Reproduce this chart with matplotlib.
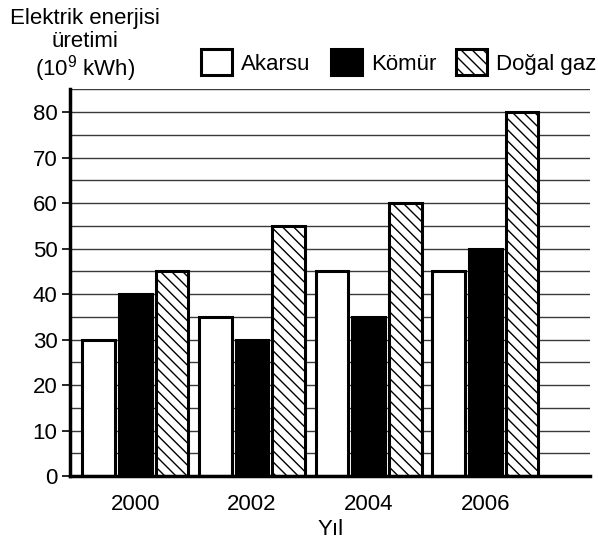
import matplotlib.pyplot as plt
import numpy as np
from matplotlib.patches import Patch

plt.rcParams['font.family'] = ['Liberation Sans', 'DejaVu Sans']
plt.rcParams['mathtext.fontset'] = 'custom'
plt.rcParams['mathtext.rm'] = 'Liberation Sans'
plt.rcParams['hatch.linewidth'] = 1.0

# Data
years = ['2000', '2002', '2004', '2006']
akarsu = [30, 35, 45, 45]
komur = [40, 30, 35, 50]
dogalgaz = [45, 55, 60, 80]

x = np.arange(len(years))
w = 0.28
step = 0.315
fs = 16

fig = plt.figure(figsize=(5.98, 5.41), dpi=100)
ax = fig.add_axes([0.117, 0.120, 0.870, 0.715])

# grid lines every 5
for v in range(5, 90, 5):
    ax.axhline(v, color='#3a3a3a', lw=1.0, zorder=0)

ax.bar(x - step, akarsu, w, color='white', edgecolor='black', lw=2.2, zorder=2)
ax.bar(x, komur, w, color='black', edgecolor='black', lw=2.2, zorder=2)
ax.bar(x + step, dogalgaz, w, color='white', edgecolor='black', lw=2.2,
       hatch='\\\\\\', zorder=2)

ax.set_xlim(-0.56, 3.9)
ax.set_ylim(0, 85)
ax.set_yticks(range(0, 90, 10))
ax.set_xticks(x)
ax.set_xticklabels(years)
ax.tick_params(axis='y', direction='out', length=6, width=1.2, labelsize=fs, pad=3)
ax.tick_params(axis='x', length=0, labelsize=fs, pad=13)

for s in ['top', 'right']:
    ax.spines[s].set_visible(False)
ax.spines['left'].set_linewidth(2.5)
ax.spines['bottom'].set_linewidth(2.5)

ax.set_xlabel('Yıl', fontsize=fs, labelpad=3)

fig.text(0.142, 0.985, 'Elektrik enerjisi', ha='center', va='top', fontsize=fs)
fig.text(0.142, 0.943, 'üretimi', ha='center', va='top', fontsize=fs)
fig.text(0.142, 0.860, '(10$^9$ kWh)', ha='center', va='baseline', fontsize=fs)

handles = [
    Patch(facecolor='white', edgecolor='black', lw=2.2, label='Akarsu'),
    Patch(facecolor='black', edgecolor='black', lw=2.2, label='Kömür'),
    Patch(facecolor='white', edgecolor='black', lw=2.2, hatch='\\\\\\', label='Doğal gaz'),
]
fig.legend(handles=handles, loc='center', bbox_to_anchor=(0.667, 0.885), ncol=3,
           frameon=False, fontsize=fs, handlelength=1.4, handleheight=1.4,
           handletextpad=0.4, columnspacing=0.9, borderpad=0, borderaxespad=0)

fig.savefig('out.png', dpi=100)
